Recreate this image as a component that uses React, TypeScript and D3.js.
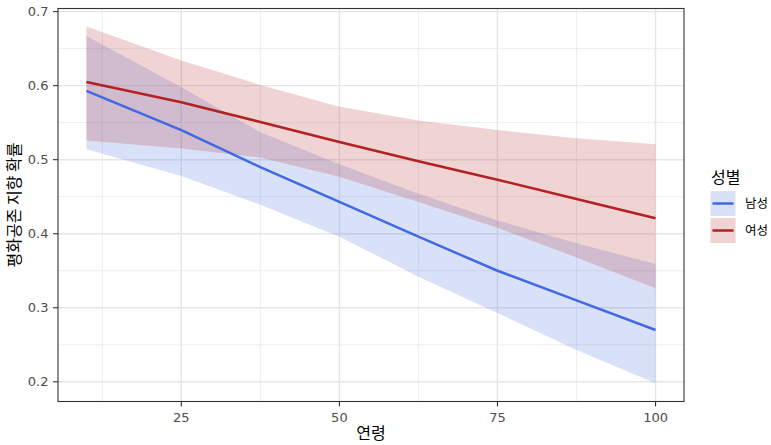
import React from "react";
import * as d3 from "d3";

const ages = [10, 25, 37.5, 50, 62.5, 75, 87.5, 100];
const maleFit = [0.593, 0.540, 0.490, 0.443, 0.396, 0.350, 0.310, 0.270];
const maleLower = [0.514, 0.478, 0.439, 0.396, 0.342, 0.293, 0.243, 0.198];
const maleUpper = [0.667, 0.598, 0.537, 0.494, 0.454, 0.418, 0.387, 0.359];
const femaleFit = [0.605, 0.5775, 0.551, 0.524, 0.498, 0.473, 0.447, 0.421];
const femaleLower = [0.526, 0.515, 0.503, 0.477, 0.443, 0.408, 0.368, 0.3265];
const femaleUpper = [0.680, 0.634, 0.601, 0.5715, 0.553, 0.540, 0.529, 0.521];

const xTicks = [25, 50, 75, 100];
const xMinor = [12.5, 37.5, 62.5, 87.5];
const yTicks = [0.2, 0.3, 0.4, 0.5, 0.6, 0.7];
const yMinor = [0.25, 0.35, 0.45, 0.55, 0.65];
const seriesNames = ["남성", "여성"];
const xTitle = "연령";
const yTitle = "평화공존 지향 확률";
const legendTitle = "성별";

const W = 771, H = 445;
const P = { l: 58, r: 684, t: 8.5, b: 401.5 };
const FONT = "'Noto Sans CJK KR', 'Noto Sans', sans-serif";
const TICKFONT = "'DejaVu Sans', sans-serif";

export default function App() {
  const x = d3.scaleLinear().domain([5.5, 104.5]).range([P.l, P.r]);
  const y = d3.scaleLinear().domain([0.1734, 0.7042]).range([P.b, P.t]);
  const series = [
    { name: seriesNames[0], fit: maleFit, lo: maleLower, hi: maleUpper, color: "#4169E1" },
    { name: seriesNames[1], fit: femaleFit, lo: femaleLower, hi: femaleUpper, color: "#B22222" },
  ];
  const area = (lo: number[], hi: number[]) =>
    d3.area<number>().x((d) => x(d)).y0((_, i) => y(lo[i])).y1((_, i) => y(hi[i]))(ages) || "";
  const line = (v: number[]) => d3.line<number>().x((d) => x(d)).y((_, i) => y(v[i]))(ages) || "";
  const grid = "#e6e6e6";
  return (
    <svg width={W} height={H} style={{ position: "absolute", left: 0, top: 0, background: "#fff" }} fontFamily={FONT}>
      <rect x={P.l} y={P.t} width={P.r - P.l} height={P.b - P.t} fill="#fff" />
      {yMinor.map((v) => (
        <line key={"ym" + v} x1={P.l} x2={P.r} y1={y(v)} y2={y(v)} stroke={grid} strokeWidth={0.7} />
      ))}
      {xMinor.map((v) => (
        <line key={"xm" + v} y1={P.t} y2={P.b} x1={x(v)} x2={x(v)} stroke={grid} strokeWidth={0.7} />
      ))}
      {yTicks.map((v) => (
        <line key={"yg" + v} x1={P.l} x2={P.r} y1={y(v)} y2={y(v)} stroke={grid} strokeWidth={1.4} />
      ))}
      {xTicks.map((v) => (
        <line key={"xg" + v} y1={P.t} y2={P.b} x1={x(v)} x2={x(v)} stroke={grid} strokeWidth={1.4} />
      ))}
      {series.map((s) => (
        <path key={"a" + s.name} d={area(s.lo, s.hi)} fill={s.color} fillOpacity={0.2} />
      ))}
      {series.map((s) => (
        <path key={"l" + s.name} d={line(s.fit)} fill="none" stroke={s.color} strokeWidth={2.5} />
      ))}
      <rect x={P.l} y={P.t} width={P.r - P.l} height={P.b - P.t} fill="none" stroke="#333" strokeWidth={1.1} />
      {yTicks.map((v) => (
        <g key={"yt" + v}>
          <line x1={P.l - 5} x2={P.l} y1={y(v)} y2={y(v)} stroke="#333" strokeWidth={1.1} />
          <text x={P.l - 9.5} y={y(v)} dy="0.36em" textAnchor="end" fontSize={13} fill="#4d4d4d" fontFamily={TICKFONT}>
            {v.toFixed(1)}
          </text>
        </g>
      ))}
      {xTicks.map((v) => (
        <g key={"xt" + v}>
          <line y1={P.b} y2={P.b + 5} x1={x(v)} x2={x(v)} stroke="#333" strokeWidth={1.1} />
          <text x={x(v)} y={P.b + 20} textAnchor="middle" fontSize={13} fill="#4d4d4d" fontFamily={TICKFONT}>
            {v}
          </text>
        </g>
      ))}
      <text x={(P.l + P.r) / 2} y={439} textAnchor="middle" fontSize={16} fill="#000">
        {xTitle}
      </text>
      <text transform={`translate(20,${(P.t + P.b) / 2}) rotate(-90)`} textAnchor="middle" fontSize={16} fill="#000">
        {yTitle}
      </text>
      <text x={711} y={183} fontSize={16} fill="#000">
        {legendTitle}
      </text>
      {series.map((s, i) => {
        const ky = 191 + i * 27;
        return (
          <g key={"lg" + s.name}>
            <rect x={710.5} y={ky} width={25} height={25} fill={s.color} fillOpacity={0.2} />
            <line x1={712.5} x2={733.5} y1={ky + 12.5} y2={ky + 12.5} stroke={s.color} strokeWidth={2.5} />
            <text x={745} y={ky + 12.5} dy="0.36em" fontSize={12.5} fill="#000">
              {s.name}
            </text>
          </g>
        );
      })}
    </svg>
  );
}
